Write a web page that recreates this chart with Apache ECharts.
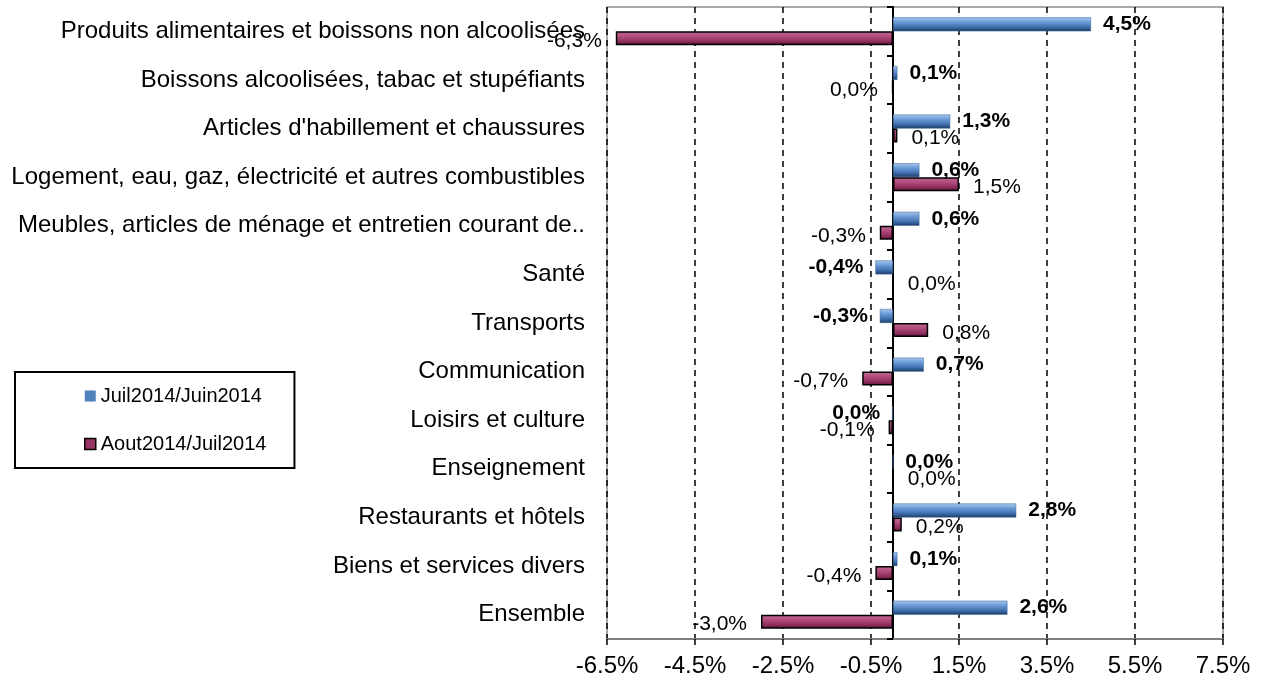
<!DOCTYPE html>
<html>
<head>
<meta charset="utf-8">
<script src="https://cdn.jsdelivr.net/npm/echarts@6/dist/echarts.min.js"></script>
<style>
html, body { margin: 0; padding: 0; background: #fff; }
#main { width: 1262px; height: 697px; }
</style>
</head>
<body>
<div id="main"></div>
<script>
var categories = [
	"Produits alimentaires et boissons non alcoolisées",
	"Boissons alcoolisées, tabac et stupéfiants",
	"Articles d'habillement et chaussures",
	"Logement, eau, gaz, électricité et autres combustibles",
	"Meubles, articles de ménage et entretien courant de..",
	"Santé",
	"Transports",
	"Communication",
	"Loisirs et culture",
	"Enseignement",
	"Restaurants et hôtels",
	"Biens et services divers",
	"Ensemble"
];
var seriesNames = ["Juil2014/Juin2014", "Aout2014/Juil2014"];
var juilJuin = [4.5, 0.1, 1.3, 0.6, 0.6, -0.4, -0.3, 0.7, -0.02, 0.0, 2.8, 0.1, 2.6];
var aoutJuil = [-6.3, -0.02, 0.1, 1.5, -0.3, 0.0, 0.8, -0.7, -0.1, 0.0, 0.2, -0.4, -3.0];
var xMin = -6.5, xMax = 7.5, xStep = 2;

var FONT = "'Liberation Sans', Arial, sans-serif";

function pct(v) {
	if (Math.abs(v) < 0.05) {
		return "0,0%";
	}
	return v.toFixed(1).replace(".", ",") + "%";
}

function toItems(arr) {
	return arr.map(function(v) {
		return { value: v, label: { position: v < 0 ? "left" : "right" } };
	});
}

var blueGrad = new echarts.graphic.LinearGradient(0, 0, 0, 1, [
	{ offset: 0, color: "#a9c8ec" },
	{ offset: 0.35, color: "#6a9ad6" },
	{ offset: 0.7, color: "#3f6fae" },
	{ offset: 1, color: "#1c3a62" }
]);
var redGrad = new echarts.graphic.LinearGradient(0, 0, 0, 1, [
	{ offset: 0, color: "#c36a94" },
	{ offset: 0.4, color: "#b04a7c" },
	{ offset: 0.75, color: "#8a2c5a" },
	{ offset: 1, color: "#4e1030" }
]);

var chart = echarts.init(document.getElementById("main"));
var option = {
	animation: false,
	backgroundColor: "#fff",
	textStyle: { fontFamily: FONT },
	grid: {
		left: 607, right: 39, top: 7, bottom: 58,
		show: true, borderColor: "#8c8c8c", borderWidth: 1.5,
		outerBoundsMode: "none"
	},
	legend: {
		orient: "vertical",
		left: 15, top: 372,
		padding: [14, 28, 14, 69],
		itemGap: 28,
		itemWidth: 11, itemHeight: 11,
		borderColor: "#000", borderWidth: 2,
		textStyle: { fontFamily: FONT, fontSize: 20, color: "#000" },
		data: [
			{ name: seriesNames[0], icon: "rect", itemStyle: { color: "#4f81bd", borderWidth: 0 } },
			{ name: seriesNames[1], icon: "rect", itemStyle: { color: "#993366", borderColor: "#000", borderWidth: 1.5 } }
		]
	},
	xAxis: {
		type: "value",
		min: xMin, max: xMax, interval: xStep,
		axisLine: { show: true, onZero: false, lineStyle: { color: "#808080", width: 2 } },
		axisTick: { show: true, length: 6, lineStyle: { color: "#000", width: 1.5 } },
		axisLabel: {
			margin: 15, fontSize: 24, color: "#000", fontFamily: FONT,
			formatter: function(v) { return v.toFixed(1) + "%"; }
		},
		splitLine: { show: true, lineStyle: { color: "#000", type: [6, 5], width: 1.5 } }
	},
	yAxis: [{
		type: "category",
		data: categories,
		inverse: true,
		position: "left",
		axisLine: { show: false, onZero: false },
		axisTick: { show: false },
		axisLabel: { margin: 22, fontSize: 24, color: "#000", fontFamily: FONT, interval: 0, padding: [10, 0, 0, 0] }
	}, {
		type: "category",
		data: categories,
		inverse: true,
		position: "right",
		axisLine: { show: true, onZero: true, lineStyle: { color: "#000", width: 2 } },
		axisTick: { show: true, inside: true, length: 6, lineStyle: { color: "#000", width: 2 } },
		axisLabel: { show: false }
	}],
	series: [{
		name: seriesNames[0],
		type: "bar",
		yAxisIndex: 0,
		barWidth: 14,
		barGap: "0%",
		itemStyle: { color: blueGrad, borderColor: "#3a6496", borderWidth: 0.5 },
		label: {
			show: true, distance: 12,
			fontFamily: FONT, fontSize: 21, fontWeight: "bold", color: "#000",
			formatter: function(p) { return pct(p.value); }
		},
		data: toItems(juilJuin)
	}, {
		name: seriesNames[1],
		type: "bar",
		yAxisIndex: 0,
		barWidth: 14,
		barGap: "0%",
		itemStyle: { color: redGrad, borderColor: "#000", borderWidth: 1.5 },
		label: {
			show: true, distance: 14, offset: [0, 3],
			fontFamily: FONT, fontSize: 21, color: "#000",
			formatter: function(p) { return pct(p.value); }
		},
		data: toItems(aoutJuil)
	}]
};
chart.setOption(option);
</script>
</body>
</html>
